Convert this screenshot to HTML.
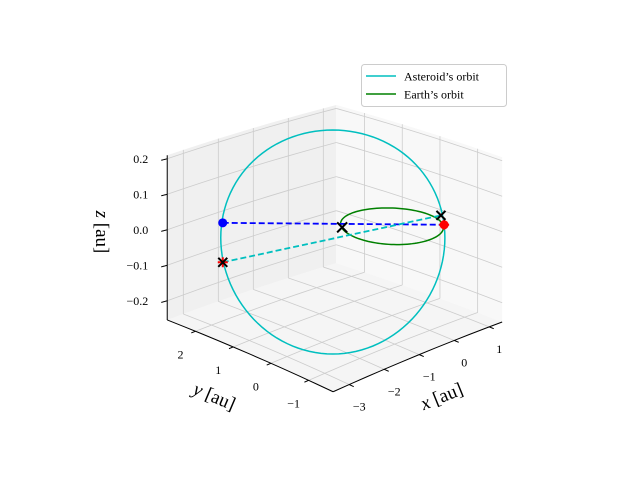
<!DOCTYPE html>
<html><head><meta charset="utf-8"><style>
html,body{margin:0;padding:0;background:#fff;}
svg{display:block;font-family:"Liberation Serif",serif;}
</style></head><body>
<svg id="chart" width="640" height="480" viewBox="0 0 640 480">
<g id="panes"></g>
<g id="grid"></g>
<g id="axes"></g>
<g id="series"></g>
<g id="legend">
<rect x="361.5" y="64.5" width="145" height="42" rx="3" fill="#fff" stroke="#ccc"/>
<line x1="366" y1="76" x2="396" y2="76" stroke="#00bfbf" stroke-width="1.5"/>
<text x="404" y="80.5" font-size="12">Asteroid’s orbit</text>
<line x1="366" y1="94" x2="396" y2="94" stroke="#008000" stroke-width="1.5"/>
<text x="404" y="98.5" font-size="12">Earth’s orbit</text>
</g>
<text x="0" y="0" font-size="19" transform="translate(444,402) rotate(-22)" text-anchor="middle"><tspan font-style="italic">x</tspan> [au]</text>
<text x="0" y="0" font-size="19" transform="translate(212,402) rotate(23)" text-anchor="middle"><tspan font-style="italic">y</tspan> [au]</text>
<text x="0" y="0" font-size="19" transform="translate(96,232) rotate(90)" text-anchor="middle"><tspan font-style="italic">z</tspan> [au]</text>
</svg>
<script>
const xTicks=[-3,-2,-1,0,1];
const yTicks=[-1,0,1,2];
const zTicks=[-0.2,-0.1,0.0,0.1,0.2];
const zTickLabels=["\u22120.2","\u22120.1","0.0","0.1","0.2"];
const xTickLabels=["\u22123","\u22122","\u22121","0","1"];
const yTickLabels=["\u22121","0","1","2"];
const xLim=[-3.46,1.37], yLim=[-1.65,2.75], zLim=[-0.254,0.21];
// orbit parameters (center, two in-plane axis vectors)
const asteroidCenter=[-1.4,0.27,0.004];
const asteroidU=[1.64,-1.45,0];
const asteroidV=[1.46,1.355,0.207];
const earthCenter=[0,0,0];
const earthU=[1,0,0];
const earthV=[0,1,0];
// marker positions
const earthNow=[-0.8,0.58,0];
const earthLater=[0.8,-0.64,0];
const asteroidNow=[-2.37,2.29,0];
const asteroidMarkA=[-2.53,2.14,-0.1];
const asteroidMarkB=[1.14,-0.24,0];

function P(x,y,z){
  const t=(x-xLim[0])/(xLim[1]-xLim[0])+(y-yLim[0])/(yLim[1]-yLim[0]);
  const d=t-1;
  return [392+35*x-37.7*y, 225-13.7*x-15.5*y-355*z*(1-0.04*d)+6.5*d+6.5*d*d];
}
const NS='http://www.w3.org/2000/svg';
function mk(parent,tag,attrs){const e=document.createElementNS(NS,tag);for(const k in attrs)e.setAttribute(k,attrs[k]);parent.appendChild(e);return e;}
const panes=document.getElementById('panes'),grid=document.getElementById('grid'),axes=document.getElementById('axes'),series=document.getElementById('series');
function poly(pts){return pts.map(p=>p.join(',')).join(' ');}
function seg(a,b){const pts=[];for(let i=0;i<=10;i++){const s=i/10;pts.push(P(a[0]+(b[0]-a[0])*s,a[1]+(b[1]-a[1])*s,a[2]+(b[2]-a[2])*s));}return pts;}
const [x0,x1]=xLim,[y0,y1]=yLim,[z0,z1]=zLim;
function face(c,fill,name){let pts=[];for(let i=0;i<4;i++)pts=pts.concat(seg(c[i],c[(i+1)%4]));const e=mk(panes,'polygon',{points:poly(pts),fill:fill});}
face([[x0,y0,z0],[x1,y0,z0],[x1,y1,z0],[x0,y1,z0]],'#f5f5f5','floor-pane');
face([[x0,y1,z0],[x1,y1,z0],[x1,y1,z1],[x0,y1,z1]],'#f0f0f0','back-left-pane');
face([[x1,y0,z0],[x1,y1,z0],[x1,y1,z1],[x1,y0,z1]],'#f8f8f8','back-right-pane');
const gs={stroke:'#cccccc','stroke-width':0.8,fill:'none'};
function gl(a,b){const l=mk(grid,'polyline',Object.assign({points:poly(seg(a,b))},gs));}
xTicks.forEach(x=>{gl([x,y0,z0],[x,y1,z0]);gl([x,y1,z0],[x,y1,z1]);});
yTicks.forEach(y=>{gl([x0,y,z0],[x1,y,z0]);gl([x1,y,z0],[x1,y,z1]);});
zTicks.forEach(z=>{gl([x0,y1,z],[x1,y1,z]);gl([x1,y1,z],[x1,y0,z]);});
const as={stroke:'#000','stroke-width':1,fill:'none'};
function al(a,b,n){const l=mk(axes,'polyline',Object.assign({points:poly(seg(a,b))},as));}
al([x0,y0,z0],[x1,y0,z0],'x-axis-line');
al([x0,y0,z0],[x0,y1,z0],'y-axis-line');
al([x0,y1,z0],[x0,y1,z1],'z-axis-line');
function txt(p,s,anchor,name){const t=mk(axes,'text',{x:p[0],y:p[1],'font-size':12,'text-anchor':anchor});t.textContent=s;}
xTicks.forEach((x,i)=>{al([x,y0,z0],[x,y0-0.12,z0],'x-tick');const a=P(x,y0,z0);txt([a[0]+10,a[1]+26],xTickLabels[i],'middle','x-tick-label');});
yTicks.forEach((y,i)=>{al([x0,y,z0],[x0-0.12,y,z0],'y-tick');const a=P(x0,y,z0);txt([a[0]-15,a[1]+27],yTickLabels[i],'middle','y-tick-label');});
zTicks.forEach((z,i)=>{al([x0,y1,z],[x0-0.15,y1+0.02,z],'z-tick');const a=P(x0,y1,z);txt([a[0]-19,a[1]+4],zTickLabels[i],'end','z-tick-label');});
function orbit(c,u,v,color,name){const pts=[];for(let i=0;i<=120;i++){const t=i/120*2*Math.PI;pts.push(P(c[0]+u[0]*Math.cos(t)+v[0]*Math.sin(t),c[1]+u[1]*Math.cos(t)+v[1]*Math.sin(t),c[2]+u[2]*Math.cos(t)+v[2]*Math.sin(t)));}
const l=mk(series,'polyline',{points:poly(pts),stroke:color,'stroke-width':1.5,fill:'none'});}
orbit(earthCenter,earthU,earthV,'#008000','earth-orbit');
orbit(asteroidCenter,asteroidU,asteroidV,'#00bfbf','asteroid-orbit');
function dash(a,b,color,name){const p=P(...a),q=P(...b);const l=mk(series,'line',{x1:p[0],y1:p[1],x2:q[0],y2:q[1],stroke:color,'stroke-width':1.8,'stroke-dasharray':'6,3'});}
dash(asteroidNow,earthLater,'#0000ff','blue-sightline');
dash(asteroidMarkA,asteroidMarkB,'#00bfbf','cyan-sightline');
function dot(a,color,name){const p=P(...a);const c=mk(series,'circle',{cx:p[0],cy:p[1],r:4.5,fill:color});}
function plus(a,name){const p=P(...a);const g=mk(series,'path',{d:`M${p[0]-5},${p[1]}h10M${p[0]},${p[1]-5}v10`,stroke:'#ff0000','stroke-width':2});}
function cross(a,s,name){const p=P(...a);const g=mk(series,'path',{d:`M${p[0]-s},${p[1]-s}l${2*s},${2*s}M${p[0]-s},${p[1]+s}l${2*s},${-2*s}`,stroke:'#000','stroke-width':2});}
dot(asteroidNow,'#0000ff','asteroid-position');
dot(earthLater,'#ff0000','earth-position-red');
plus(earthLater,'earth-plus-marker');
cross(earthNow,5,'earth-x-marker');
cross(asteroidMarkB,4.5,'asteroid-x-marker-b');
plus(asteroidMarkA,'asteroid-plus-marker');
cross(asteroidMarkA,4.5,'asteroid-x-marker-a');
</script>
</body></html>
